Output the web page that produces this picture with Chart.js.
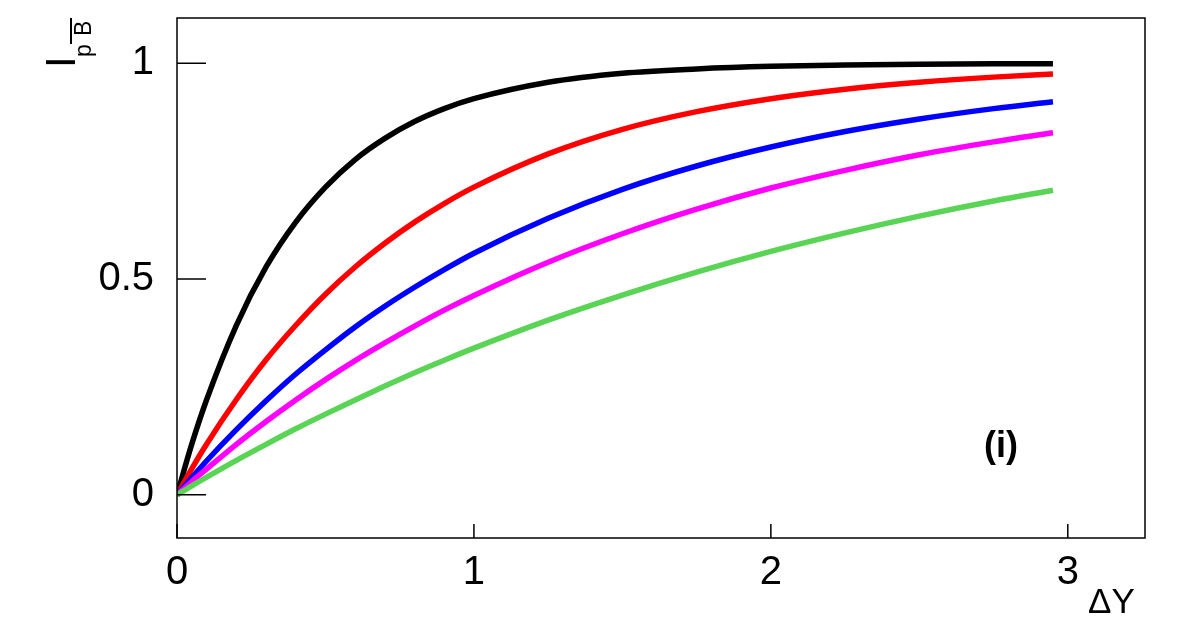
<!DOCTYPE html>
<html>
<head>
<meta charset="utf-8">
<script src="https://cdn.jsdelivr.net/npm/chart.js@4/dist/chart.umd.min.js"></script>
<style>
  html, body { margin: 0; padding: 0; background: #fff; }
  #wrap { width: 1182px; height: 636px; position: relative; }
</style>
</head>
<body>
<div id="wrap"><canvas id="ipb"></canvas></div>
<script>
// delta Y values (x axis)
const dY = [0, 0.05, 0.1, 0.2, 0.3, 0.4, 0.5, 0.6, 0.7, 0.8, 0.9, 1.0, 1.25, 1.5, 1.75, 2.0, 2.25, 2.5, 2.75, 2.95]

// curves, top to bottom
const blackVals   = [0, 0.118, 0.221, 0.393, 0.528, 0.632, 0.713, 0.777, 0.826, 0.865, 0.895, 0.918, 0.956, 0.977, 0.987, 0.993, 0.996, 0.998, 0.999, 0.999]
const redVals     = [0, 0.061, 0.118, 0.221, 0.313, 0.393, 0.465, 0.528, 0.583, 0.632, 0.675, 0.713, 0.790, 0.847, 0.888, 0.918, 0.940, 0.956, 0.968, 0.975]
const blueVals    = [0, 0.040, 0.079, 0.151, 0.218, 0.280, 0.336, 0.389, 0.437, 0.481, 0.522, 0.560, 0.641, 0.708, 0.762, 0.806, 0.842, 0.871, 0.895, 0.911]
const magentaVals = [0, 0.031, 0.060, 0.117, 0.170, 0.220, 0.267, 0.311, 0.352, 0.391, 0.428, 0.462, 0.539, 0.605, 0.662, 0.711, 0.752, 0.788, 0.818, 0.839]
const greenVals   = [0, 0.021, 0.041, 0.080, 0.117, 0.153, 0.187, 0.220, 0.252, 0.283, 0.312, 0.340, 0.405, 0.463, 0.516, 0.564, 0.607, 0.646, 0.681, 0.706]

const xTicks = [0, 1, 2, 3]
const yTicks = [0, 0.5, 1]
const yTickLabels = ['0', '0.5', '1']

const FONT = "'Liberation Sans', Arial, Helvetica, sans-serif"

const toPoints = (vals) => vals.map((v, i) => ({ x: dY[i], y: v }))

// green is drawn last in the original, so it goes first here (index 0 ends on top)
const series = [
  { vals: greenVals,   color: '#59d454' },
  { vals: magentaVals, color: '#ff00ff' },
  { vals: blueVals,    color: '#0000ff' },
  { vals: redVals,     color: '#ff0000' },
  { vals: blackVals,   color: '#000000' }
]

// frame, inward ticks and the extra labels
const framePlugin = {
  id: 'frame',
  afterDraw(chart) {
    const ctx = chart.ctx
    const a = chart.chartArea
    const xs = chart.scales.x
    const ys = chart.scales.y
    ctx.save()
    ctx.strokeStyle = '#000'
    ctx.lineWidth = 1.5
    ctx.strokeRect(a.left, a.top, a.right - a.left, a.bottom - a.top)

    ctx.beginPath()
    yTicks.forEach((t) => {
      const py = ys.getPixelForValue(t)
      ctx.moveTo(a.left, py)
      ctx.lineTo(a.left + 29, py)
    })
    xTicks.forEach((t) => {
      const px = xs.getPixelForValue(t)
      ctx.moveTo(px, a.bottom)
      ctx.lineTo(px, a.bottom - 14)
    })
    ctx.stroke()

    ctx.fillStyle = '#000'
    // panel tag
    ctx.font = 'bold 36px ' + FONT
    ctx.textAlign = 'center'
    ctx.textBaseline = 'alphabetic'
    ctx.fillText('(i)', 1001, 457)

    // x title
    ctx.font = '35px ' + FONT
    ctx.textAlign = 'left'
    ctx.fillText('ΔY', 1088, 613)

    // y title, rotated: I_{p Bbar}
    ctx.translate(75, 68)
    ctx.rotate(-Math.PI / 2)
    ctx.font = '42px ' + FONT
    ctx.fillText('I', 0, 0)
    ctx.font = '23px ' + FONT
    ctx.fillText('p', 11, 16)
    ctx.fillText('B', 32, 16)
    ctx.lineWidth = 2
    ctx.beginPath()
    ctx.moveTo(24, -4)
    ctx.lineTo(50, -4)
    ctx.stroke()
    ctx.restore()
  }
}

new Chart(document.getElementById('ipb'), {
  type: 'line',
  data: {
    datasets: series.map((s) => ({
      data: toPoints(s.vals),
      borderColor: s.color,
      borderWidth: 5.5,
      pointRadius: 0,
      fill: false,
      cubicInterpolationMode: 'monotone'
    }))
  },
  options: {
    responsive: true,
    maintainAspectRatio: false,
    devicePixelRatio: 1,
    animation: false,
    layout: { padding: { top: 18, right: 37, left: 0, bottom: 0 } },
    plugins: { legend: { display: false }, tooltip: { enabled: false } },
    scales: {
      x: {
        type: 'linear',
        min: 0,
        max: 3.26,
        grid: { display: false, drawTicks: false },
        border: { display: false },
        afterBuildTicks: (scale) => { scale.ticks = xTicks.map((v) => ({ value: v })) },
        afterFit: (scale) => { scale.height = 98; scale.paddingLeft = 0; scale.paddingRight = 0 },
        ticks: {
          color: '#000',
          padding: 11,
          maxRotation: 0,
          font: { family: FONT, size: 40 },
          callback: (v) => String(v)
        }
      },
      y: {
        type: 'linear',
        min: -0.1,
        max: 1.105,
        grid: { display: false, drawTicks: false },
        border: { display: false },
        afterBuildTicks: (scale) => { scale.ticks = yTicks.map((v) => ({ value: v })) },
        afterFit: (scale) => { scale.width = 177; scale.paddingTop = 0; scale.paddingBottom = 0 },
        ticks: {
          color: '#000',
          padding: 23,
          font: { family: FONT, size: 40 },
          callback: (v) => yTickLabels[yTicks.indexOf(v)]
        }
      }
    }
  },
  plugins: [framePlugin]
})
</script>
</body>
</html>
